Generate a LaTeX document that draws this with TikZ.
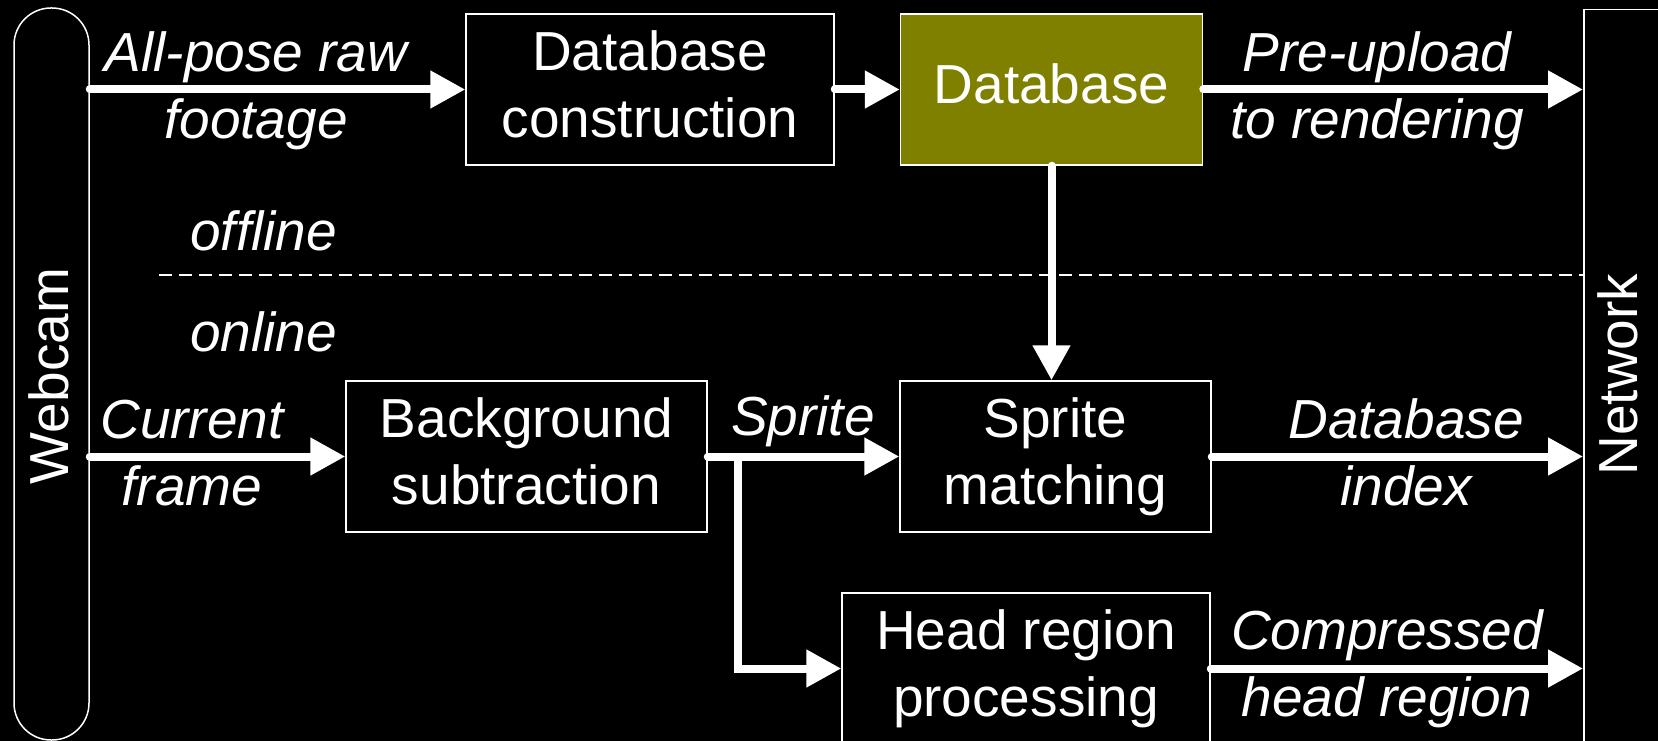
\documentclass[tikz,border=0pt]{standalone}
\usepackage{fontspec}
\setmainfont{Liberation Sans}
\usetikzlibrary{arrows.meta}
\definecolor{dbolive}{RGB}{128,128,0}
\newcommand{\stl}{\rule[-11pt]{0pt}{51pt}}
\begin{document}
\begin{tikzpicture}[x=1pt,y=-1pt,
  every node/.style={text=white, font=\fontsize{55}{67}\selectfont, inner sep=0pt},
  box/.style={draw=white, line width=1.5pt, align=center},
  lbl/.style={font=\fontsize{55}{67}\selectfont\itshape, align=center},
  flow/.style={draw=white, line width=8pt, line cap=round, -{Triangle[length=35pt,width=36pt]}},
  elbow/.style={draw=white, line width=8pt, line join=miter, -{Triangle[length=35pt,width=36pt]}},
  sep/.style={draw=white, line width=2pt, dash pattern=on 13pt off 7pt},
]
\fill[black] (0,0) rectangle (1658,741);
\useasboundingbox (0,0) rectangle (1658,741);

% side bars
\node[draw=white, line width=1.5pt, rounded corners=37pt, minimum width=75, minimum height=732] (web) at (51.5,374) {};
\node[rotate=90] (webtext) at (48.5,376) {Webcam};
\node[draw=white, line width=1.5pt, anchor=north west, minimum width=100, minimum height=745] (net) at (1583,9) {};
\node[rotate=90] (nettext) at (1618,374.5) {Network};

% boxes
\node[box, minimum width=368, minimum height=151] (dbc) at (650,89.5) {\stl Database\\construction\stl};
\node[box, fill=dbolive, minimum width=302, minimum height=151] (db) at (1051.5,89.5) {\stl Database};
\node[box, minimum width=361, minimum height=151] (bs) at (526.5,456.5) {\stl Background\\subtraction\stl};
\node[box, minimum width=311, minimum height=151] (sm) at (1055.5,456.5) {\stl Sprite\\matching\stl};
\node[box, minimum width=368, minimum height=151] (hr) at (1026,668.5) {\stl Head region\\processing\stl};

% labels
\node[lbl] (l1) at (256,91) {\stl All-pose raw\\footage\stl};
\node[lbl] (l2) at (1377,91) {\stl Pre-upload\\to rendering\stl};
\node[lbl] (l3) at (192,457) {\stl Current\\frame\stl};
\node[lbl] (l4) at (803,421.5) {\stl Sprite};
\node[lbl] (l5) at (1406,457) {\stl Database\\index\stl};
\node[lbl] (l6) at (1387,668.5) {\stl Compressed\\head region\stl};
\node[lbl, anchor=west] (off) at (190,235.5) {\stl offline};
\node[lbl, anchor=west] (on) at (190,336.5) {\stl online};

% separator
\coordinate (dl) at (159,274.5);
\draw[sep] (dl) -- (dl -| net.west);

% connectors
\draw[flow] (dbc.west -| web.east) -- (dbc.west);
\draw[flow] (dbc.east) -- (db.west);
\draw[flow] (db.east) -- (db.east -| net.west);
\draw[flow] (db.south) -- (db.south |- sm.north);
\draw[flow] (bs.west -| web.east) -- (bs.west);
\draw[flow] (bs.east) -- (sm.west);
\draw[flow] (sm.east) -- (sm.east -| net.west);
\draw[flow] (hr.east) -- (hr.east -| net.west);
\coordinate (br) at (738,456.5);
\draw[elbow] (br) -- (br |- hr.west) -- (hr.west);
\end{tikzpicture}
\end{document}
